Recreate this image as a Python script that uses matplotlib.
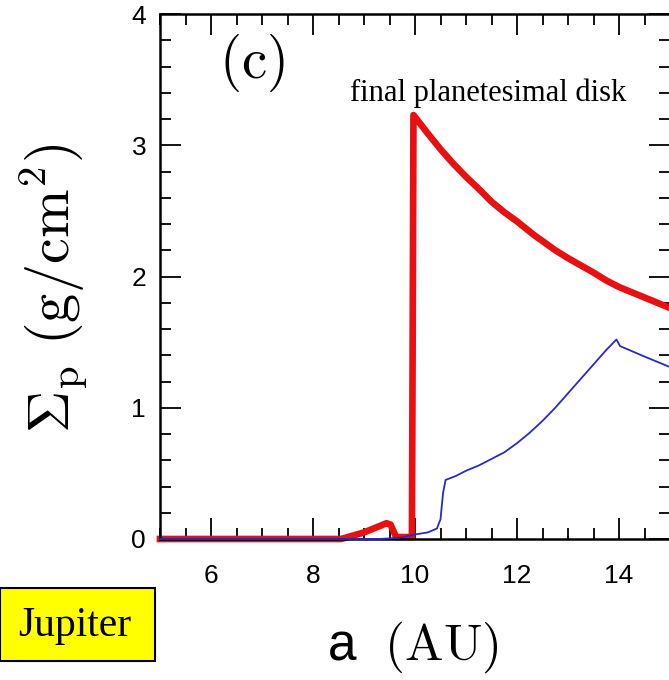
import matplotlib
matplotlib.use('Agg')
import matplotlib.pyplot as plt
from matplotlib.ticker import MultipleLocator
from matplotlib.patches import Rectangle

plt.rcParams['mathtext.fontset'] = 'cm'

# surface density of planetesimals, final state (thick red)
a_final = [5.0, 8.55, 9.0, 9.44, 9.52, 9.63, 9.94, 9.97, 10.25, 10.5, 10.75, 11.0,
           11.27, 11.5, 11.75, 12.0, 12.32, 12.5, 12.75, 13.0, 13.25, 13.5, 13.75,
           14.0, 14.25, 14.5, 14.75, 15.0]
sig_final = [0.0, 0.0, 0.05, 0.12, 0.11, 0.015, 0.015, 3.23, 3.09, 2.97, 2.86, 2.76,
             2.66, 2.57, 2.49, 2.42, 2.32, 2.27, 2.20, 2.14, 2.085, 2.03, 1.97,
             1.92, 1.88, 1.84, 1.80, 1.76]

# thin blue curve
a_blue = [5.0, 9.3, 9.7, 10.0, 10.25, 10.43, 10.5, 10.55, 10.6, 10.8, 11.0, 11.25,
          11.5, 11.75, 12.0, 12.25, 12.5, 12.75, 13.0, 13.25, 13.5, 13.75, 13.95,
          14.02, 14.5, 15.0]
sig_blue = [0.0, 0.0, 0.01, 0.035, 0.05, 0.08, 0.15, 0.35, 0.45, 0.48, 0.52, 0.56,
            0.61, 0.66, 0.73, 0.81, 0.90, 1.00, 1.11, 1.22, 1.33, 1.44, 1.52,
            1.47, 1.39, 1.31]

xticks = [6, 8, 10, 12, 14]
yticks = [0, 1, 2, 3, 4]

fig = plt.figure(figsize=(6.69, 6.8), dpi=100)
ax = fig.add_axes([160/669, 141/680, 510/669, 525/680])

ax.plot(a_final, sig_final, color='#e81010', lw=4.8, clip_on=False, zorder=2,
        solid_joinstyle='round')
ax.plot(a_blue, sig_blue, color='#2a2ac8', lw=1.3, clip_on=False, zorder=3)

ax.set_xlim(5, 15)
ax.set_ylim(0, 4)
ax.set_xticks(xticks)
ax.set_yticks(yticks)
ax.xaxis.set_minor_locator(MultipleLocator(0.5))
ax.yaxis.set_minor_locator(MultipleLocator(0.2))
ax.tick_params(which='both', direction='in', top=True, right=True, width=1.3,
               labelsize=19)
ax.tick_params(which='major', length=15)
ax.tick_params(which='minor', length=8)
ax.tick_params(axis='x', pad=18)
ax.tick_params(axis='y', pad=10)
for lab in ax.get_xticklabels() + ax.get_yticklabels():
    lab.set_family('Liberation Sans')
for s in ax.spines.values():
    s.set_linewidth(1.8)

fig.text(252/669, 1 - 63/680, r'$(\mathrm{c})$', fontsize=41, ha='center', va='center')

fig.text(350/669, 1 - 101/680, 'final planetesimal disk', family='Liberation Serif',
         fontsize=22, ha='left', va='baseline')

fig.text(54/669, 1 - 288/680, r'$\Sigma_{\rm p}\ ({\rm g/cm^2})$', rotation=90,
         fontsize=42, ha='center', va='center')

fig.text(413/669, 1 - 660/680, r'a $\ (\mathrm{AU})$', family='Liberation Sans',
         fontsize=37, ha='center', va='baseline')

# yellow label box
fig.patches.append(Rectangle((0, 1 - 661/680), 155/669, 73/680, transform=fig.transFigure,
                             facecolor='#ffff00', edgecolor='black', lw=1.5))
fig.text(75/669, 1 - 626/680, 'Jupiter', family='Liberation Serif', fontsize=30,
         ha='center', va='center')

fig.savefig('out.png', dpi=100)
